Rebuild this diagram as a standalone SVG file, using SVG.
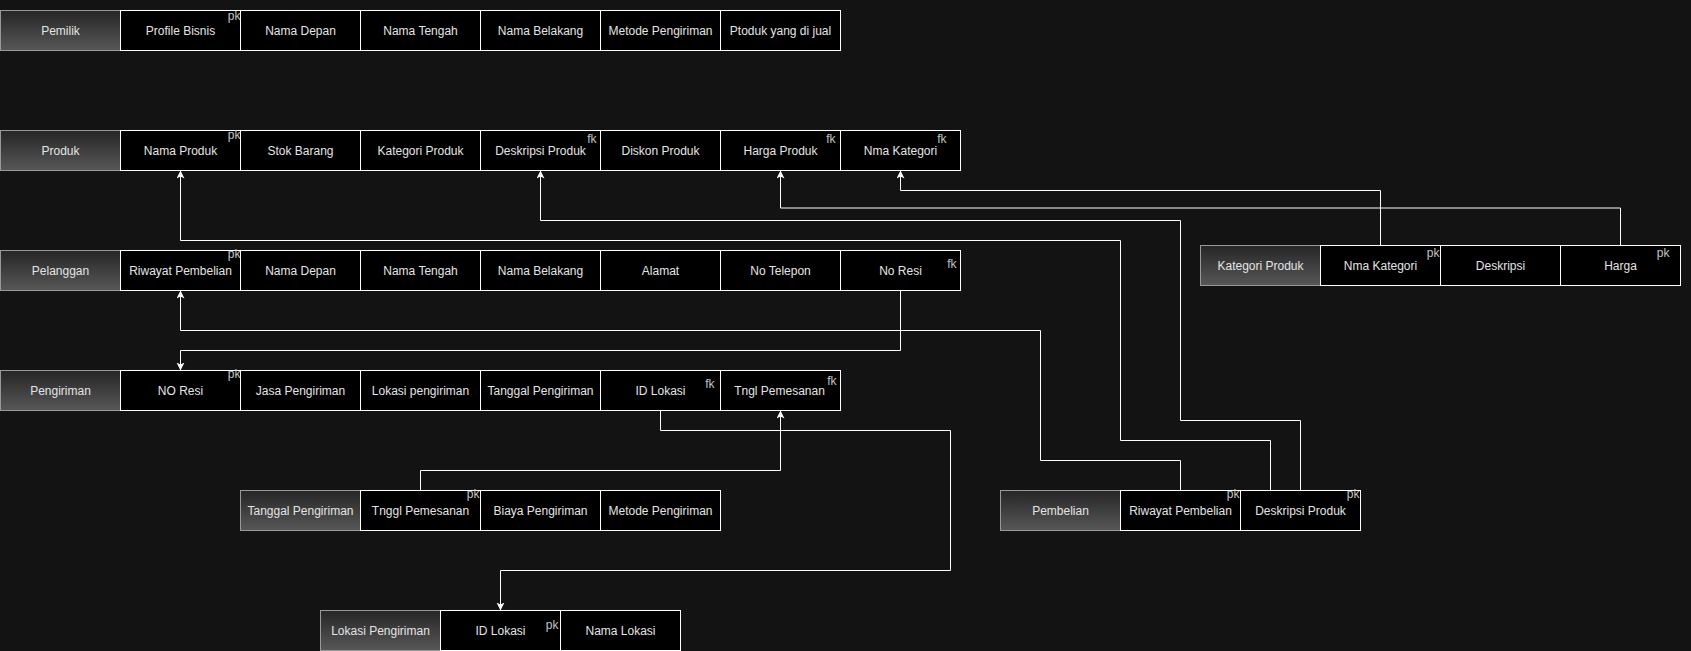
<svg xmlns="http://www.w3.org/2000/svg" width="1691" height="651" viewBox="0 0 1691 651">
<style>
.bg{fill:#131313}
.hd{fill:url(#hg);stroke:#999;stroke-width:1}
.c{fill:#000;stroke:#fff;stroke-width:1}
text{font-family:"Liberation Sans",Arial,Helvetica,sans-serif;font-size:12px;fill:#e4e4e4}
.t{text-anchor:middle}
.k{text-anchor:end;font-size:12px;fill:#c4c4c4}
.e{fill:none;stroke:#fff;stroke-width:1;marker-end:url(#arr)}
</style>
<defs>
<linearGradient id="hg" x1="0" y1="0" x2="0" y2="1">
<stop offset="0" stop-color="#262626"/>
<stop offset="1" stop-color="#575757"/>
</linearGradient>
<marker id="arr" markerUnits="userSpaceOnUse" markerWidth="10" markerHeight="10" refX="8" refY="4" orient="auto">
<path d="M0,0 L8,4 L0,8 L2,4 Z" fill="#fff"/>
</marker>
</defs>
<rect class="bg" x="0" y="0" width="1691" height="651"/>
<g transform="translate(0.5,0.5)">
<g id="pemilik">
<rect class="hd" x="0" y="10" width="120" height="40"/>
<text class="t" x="60" y="34">Pemilik</text>
<rect class="c" x="120" y="10" width="120" height="40"/><text class="t" x="180" y="34">Profile Bisnis</text>
<rect class="c" x="240" y="10" width="120" height="40"/><text class="t" x="300" y="34">Nama Depan</text>
<rect class="c" x="360" y="10" width="120" height="40"/><text class="t" x="420" y="34">Nama Tengah</text>
<rect class="c" x="480" y="10" width="120" height="40"/><text class="t" x="540" y="34">Nama Belakang</text>
<rect class="c" x="600" y="10" width="120" height="40"/><text class="t" x="660" y="34">Metode Pengiriman</text>
<rect class="c" x="720" y="10" width="120" height="40"/><text class="t" x="780" y="34">Ptoduk yang di jual</text>
<text class="k" x="240" y="19">pk</text>
</g>
<g id="produk">
<rect class="hd" x="0" y="130" width="120" height="40"/>
<text class="t" x="60" y="154">Produk</text>
<rect class="c" x="120" y="130" width="120" height="40"/><text class="t" x="180" y="154">Nama Produk</text>
<rect class="c" x="240" y="130" width="120" height="40"/><text class="t" x="300" y="154">Stok Barang</text>
<rect class="c" x="360" y="130" width="120" height="40"/><text class="t" x="420" y="154">Kategori Produk</text>
<rect class="c" x="480" y="130" width="120" height="40"/><text class="t" x="540" y="154">Deskripsi Produk</text>
<rect class="c" x="600" y="130" width="120" height="40"/><text class="t" x="660" y="154">Diskon Produk</text>
<rect class="c" x="720" y="130" width="120" height="40"/><text class="t" x="780" y="154">Harga Produk</text>
<rect class="c" x="840" y="130" width="120" height="40"/><text class="t" x="900" y="154">Nma Kategori</text>
<text class="k" x="240" y="138">pk</text>
<text class="k" x="596" y="142">fk</text>
<text class="k" x="835" y="142">fk</text>
<text class="k" x="946" y="142">fk</text>
</g>
<g id="pelanggan">
<rect class="hd" x="0" y="250" width="120" height="40"/>
<text class="t" x="60" y="274">Pelanggan</text>
<rect class="c" x="120" y="250" width="120" height="40"/><text class="t" x="180" y="274">Riwayat Pembelian</text>
<rect class="c" x="240" y="250" width="120" height="40"/><text class="t" x="300" y="274">Nama Depan</text>
<rect class="c" x="360" y="250" width="120" height="40"/><text class="t" x="420" y="274">Nama Tengah</text>
<rect class="c" x="480" y="250" width="120" height="40"/><text class="t" x="540" y="274">Nama Belakang</text>
<rect class="c" x="600" y="250" width="120" height="40"/><text class="t" x="660" y="274">Alamat</text>
<rect class="c" x="720" y="250" width="120" height="40"/><text class="t" x="780" y="274">No Telepon</text>
<rect class="c" x="840" y="250" width="120" height="40"/><text class="t" x="900" y="274">No Resi</text>
<text class="k" x="240" y="257">pk</text>
<text class="k" x="956" y="267">fk</text>
</g>
<g id="pengiriman">
<rect class="hd" x="0" y="370" width="120" height="40"/>
<text class="t" x="60" y="394">Pengiriman</text>
<rect class="c" x="120" y="370" width="120" height="40"/><text class="t" x="180" y="394">NO Resi</text>
<rect class="c" x="240" y="370" width="120" height="40"/><text class="t" x="300" y="394">Jasa Pengiriman</text>
<rect class="c" x="360" y="370" width="120" height="40"/><text class="t" x="420" y="394">Lokasi pengiriman</text>
<rect class="c" x="480" y="370" width="120" height="40"/><text class="t" x="540" y="394">Tanggal Pengiriman</text>
<rect class="c" x="600" y="370" width="120" height="40"/><text class="t" x="660" y="394">ID Lokasi</text>
<rect class="c" x="720" y="370" width="120" height="40"/><text class="t" x="779" y="394">Tngl Pemesanan</text>
<text class="k" x="240" y="377">pk</text>
<text class="k" x="714" y="387">fk</text>
<text class="k" x="836" y="384">fk</text>
</g>
<g id="kategori-produk">
<rect class="hd" x="1200" y="245" width="120" height="40"/>
<text class="t" x="1260" y="269">Kategori Produk</text>
<rect class="c" x="1320" y="245" width="120" height="40"/><text class="t" x="1380" y="269">Nma Kategori</text>
<rect class="c" x="1440" y="245" width="120" height="40"/><text class="t" x="1500" y="269">Deskripsi</text>
<rect class="c" x="1560" y="245" width="120" height="40"/><text class="t" x="1620" y="269">Harga</text>
<text class="k" x="1439" y="256">pk</text>
<text class="k" x="1669" y="256">pk</text>
</g>
<g id="tanggal-pengiriman">
<rect class="hd" x="240" y="490" width="120" height="40"/>
<text class="t" x="300" y="514">Tanggal Pengiriman</text>
<rect class="c" x="360" y="490" width="120" height="40"/><text class="t" x="420" y="514">Tnggl Pemesanan</text>
<rect class="c" x="480" y="490" width="120" height="40"/><text class="t" x="540" y="514">Biaya Pengiriman</text>
<rect class="c" x="600" y="490" width="120" height="40"/><text class="t" x="660" y="514">Metode Pengiriman</text>
<text class="k" x="479" y="497">pk</text>
</g>
<g id="pembelian">
<rect class="hd" x="1000" y="490" width="120" height="40"/>
<text class="t" x="1060" y="514">Pembelian</text>
<rect class="c" x="1120" y="490" width="120" height="40"/><text class="t" x="1180" y="514">Riwayat Pembelian</text>
<rect class="c" x="1240" y="490" width="120" height="40"/><text class="t" x="1300" y="514">Deskripsi Produk</text>
<text class="k" x="1239" y="497">pk</text>
<text class="k" x="1359" y="497">pk</text>
</g>
<g id="lokasi-pengiriman">
<rect class="hd" x="320" y="610" width="120" height="40"/>
<text class="t" x="380" y="634">Lokasi Pengiriman</text>
<rect class="c" x="440" y="610" width="120" height="40"/><text class="t" x="500" y="634">ID Lokasi</text>
<rect class="c" x="560" y="610" width="120" height="40"/><text class="t" x="620" y="634">Nama Lokasi</text>
<text class="k" x="558" y="628">pk</text>
</g>
<g id="connectors">
<path class="e" d="M1380,245 V190 H900 V170"/>
<path class="e" d="M1620,245 V207.5 H780 V170"/>
<path class="e" d="M1300,490 V420 H1180 V220 H540 V170"/>
<path class="e" d="M1270,490 V440 H1120 V240 H180 V170"/>
<path class="e" d="M1180,490 V460 H1040 V330 H180 V290"/>
<path class="e" d="M900,290 V350 H180 V370"/>
<path class="e" d="M420,490 V470 H780 V410"/>
<path class="e" d="M660,410 V430 H950 V570 H500 V610"/>
</g>
</g>
</svg>
